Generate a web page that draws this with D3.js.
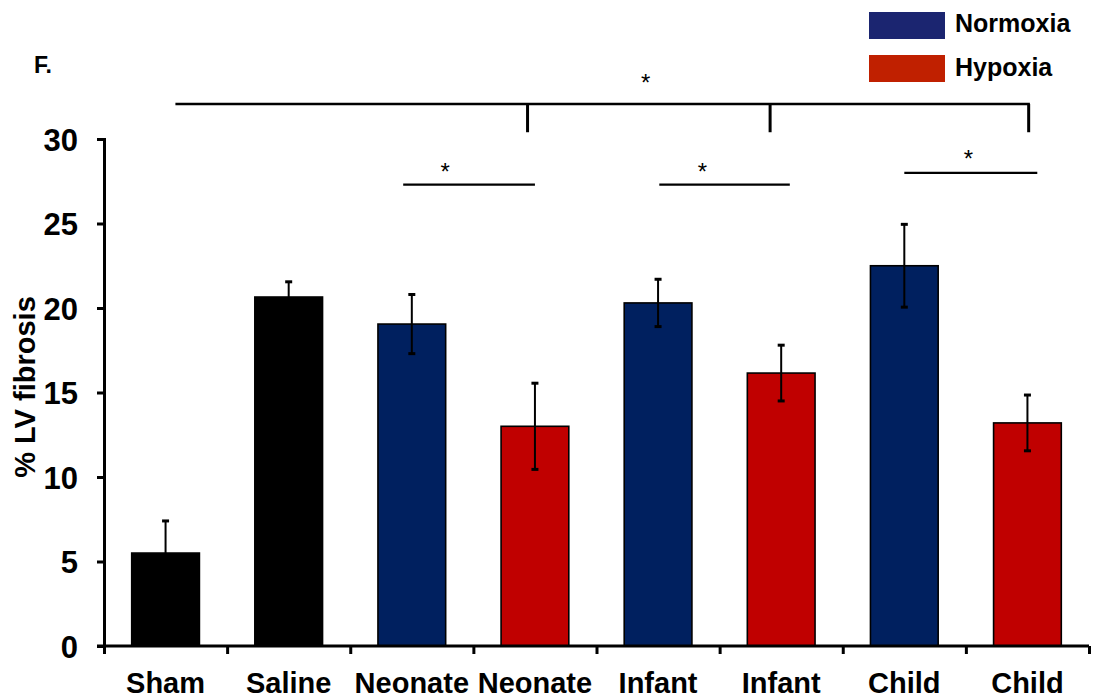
<!DOCTYPE html>
<html><head><meta charset="utf-8">
<script src="https://cdn.jsdelivr.net/npm/d3@7"></script>
<style>body{margin:0;background:#fff}svg{display:block}text{font-family:"Liberation Sans",Arial,Helvetica,sans-serif}</style>
</head><body><svg id="c" width="1094" height="700"></svg>
<script>
// ---- data ----
const categories = ["Sham","Saline","Neonate","Neonate","Infant","Infant","Child","Child"];
const groups = ["Control","Control","Normoxia","Hypoxia","Normoxia","Hypoxia","Normoxia","Hypoxia"];
const values = [5.5, 20.65, 19.05, 13.0, 20.3, 16.15, 22.5, 13.2];
const errors = [1.9, 0.9, 1.75, 2.55, 1.4, 1.65, 2.45, 1.65];
const yTicks = [0, 5, 10, 15, 20, 25, 30];
const legendLabels = ["Normoxia", "Hypoxia"];
const panelLabel = "F.";
const yLabel = "% LV fibrosis";
// significance brackets: x in category-position units (0..8), y in % units
const bigBracket = {x1: 0.58, x2: 7.52, y: 32.07, drops: [3.44, 5.41, 7.51], dropTo: 30.4, starX: 4.40, starY: 33.6};
const pairBrackets = [
  {x1: 2.43, x2: 3.50, y: 27.3, starX: 2.77, starY: 28.35},
  {x1: 4.51, x2: 5.57, y: 27.3, starX: 4.86, starY: 28.35},
  {x1: 6.50, x2: 7.58, y: 28.0, starX: 7.02, starY: 29.1}
];

// ---- styles ----
const fillColor = {Control: "#000000", Normoxia: "#00205f", Hypoxia: "#c00000"};
const legendColor = {Normoxia: "#1b2570", Hypoxia: "#c02000"};

const svg = d3.select("#c");
const X0 = 104, X1 = 1089, Y0 = 646, Y30 = 139;

const y = d3.scaleLinear().domain([0, 30]).range([Y0, Y30]);
const x = d3.scaleBand().domain(d3.range(categories.length)).range([X0, X1]).paddingInner(0.45).paddingOuter(0.225);
const xPos = d3.scaleLinear().domain([0, categories.length]).range([X0, X1]);

const data = categories.map((c, i) => ({i, c, g: groups[i], v: values[i], e: errors[i]}));

// bars
svg.append("g").selectAll("rect").data(data).join("rect")
  .attr("x", d => x(d.i)).attr("width", x.bandwidth())
  .attr("y", d => y(d.v)).attr("height", d => y(0) - y(d.v))
  .attr("fill", d => fillColor[d.g]).attr("stroke", "#000").attr("stroke-width", 1.6);

// error bars
const eb = svg.append("g").attr("stroke", "#000");
data.forEach(d => {
  const cx = x(d.i) + x.bandwidth() / 2;
  eb.append("line").attr("x1", cx).attr("x2", cx).attr("y1", y(d.v + d.e)).attr("y2", y(d.v - d.e)).attr("stroke-width", 2);
  [d.v + d.e, d.v - d.e].forEach(val => {
    eb.append("line").attr("x1", cx - 3.5).attr("x2", cx + 3.5).attr("y1", y(val)).attr("y2", y(val)).attr("stroke-width", 3);
  });
});

// y axis
const ya = svg.append("g").attr("transform", `translate(${X0},0)`)
  .call(d3.axisLeft(y).tickValues(yTicks).tickSize(7).tickSizeOuter(7).tickPadding(19));
ya.select(".domain").attr("stroke-width", 3);
ya.selectAll(".tick line").attr("stroke-width", 3);
ya.selectAll(".tick text").attr("font-size", 31).attr("font-weight", "bold").attr("fill", "#000")
  .attr("font-family", '"Liberation Sans",Arial,sans-serif').attr("dy", "0.36em");

// x axis (boundary ticks)
const xa = svg.append("g").attr("transform", `translate(0,${Y0})`)
  .call(d3.axisBottom(xPos).tickValues(d3.range(categories.length + 1)).tickSize(8).tickSizeOuter(0).tickFormat(""));
xa.select(".domain").attr("stroke-width", 3).attr("d", `M${X0 - 7},0H${X1}`);
xa.selectAll(".tick line").attr("stroke-width", 3);

// x labels
svg.append("g").selectAll("text").data(data).join("text")
  .attr("x", d => x(d.i) + x.bandwidth() / 2).attr("y", 693)
  .attr("text-anchor", "middle").attr("font-size", 29).attr("font-weight", "bold").text(d => d.c);

// y label
svg.append("text").attr("transform", `translate(35,387) rotate(-90)`)
  .attr("text-anchor", "middle").attr("font-size", 29).attr("font-weight", "bold").text(yLabel);

// panel label
svg.append("text").attr("x", 34).attr("y", 73).attr("font-size", 23).attr("font-weight", "bold").text(panelLabel);

// significance brackets
const br = svg.append("g").attr("stroke", "#000").attr("fill", "none");
br.append("line").attr("x1", xPos(bigBracket.x1)).attr("x2", xPos(bigBracket.x2))
  .attr("y1", y(bigBracket.y)).attr("y2", y(bigBracket.y)).attr("stroke-width", 2.6);
bigBracket.drops.forEach(p => {
  br.append("line").attr("x1", xPos(p)).attr("x2", xPos(p))
    .attr("y1", y(bigBracket.y)).attr("y2", y(bigBracket.dropTo)).attr("stroke-width", 3);
});
pairBrackets.forEach(b => {
  br.append("line").attr("x1", xPos(b.x1)).attr("x2", xPos(b.x2)).attr("y1", y(b.y)).attr("y2", y(b.y)).attr("stroke-width", 2.2);
});
const stars = [bigBracket, ...pairBrackets];
svg.append("g").selectAll("text").data(stars).join("text")
  .attr("x", d => xPos(d.starX)).attr("y", d => y(d.starY)).attr("dy", 13)
  .attr("text-anchor", "middle").attr("font-size", 24).attr("fill", "#000").text("*");

// legend
const lg = svg.append("g");
legendLabels.forEach((l, i) => {
  lg.append("rect").attr("x", 869).attr("y", 12 + i * 43).attr("width", 76).attr("height", 27).attr("fill", legendColor[l]);
  lg.append("text").attr("x", 955).attr("y", 32 + i * 44).attr("font-size", 25).attr("font-weight", "bold").text(l);
});
</script></body></html>
